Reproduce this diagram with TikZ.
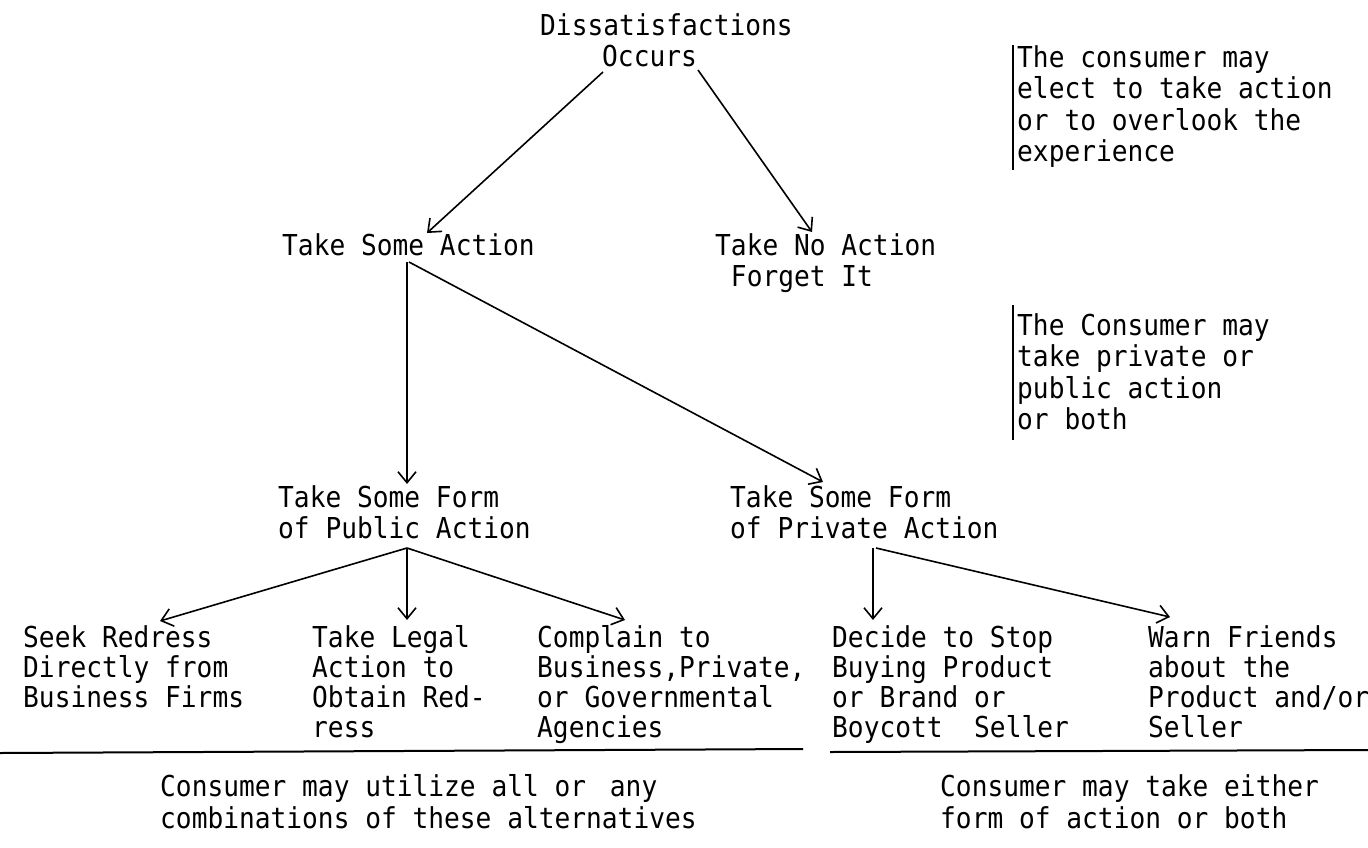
\documentclass[tikz,border=0pt]{standalone}
\usepackage{fontspec}
\setmonofont[FakeStretch=0.91]{DejaVu Sans Mono}
\usetikzlibrary{arrows.meta}
\begin{document}
\begin{tikzpicture}[x=1pt,y=-1pt,
  txt/.style={anchor=base west,inner sep=0pt,align=left,font=\ttfamily\fontsize{28.8}{31.5}\selectfont},
  rowtxt/.style={txt,font=\ttfamily\fontsize{28.8}{30.3}\selectfont},
  arr/.style={line width=1.6pt,-{Straight Barb[length=11pt,width=18pt,line width=1.6pt]}},
  rulebar/.style={line width=2pt},
  sidebar/.style={line width=1.2pt}]
\useasboundingbox (0,0) rectangle (1368,847);

% nodes (anchor = baseline of the last line)
\node[txt] (dis) at (540,66.5) {Dissatisfactions\\\hspace*{62pt}Occurs};
\node[txt] (n1) at (1017,161.5) {The consumer may\\elect to take action\\or to overlook the\\experience};
\node[txt] (tsa) at (282,255) {Take Some Action};
\node[txt] (tna) at (715,286.5) {Take No Action\\~Forget It};
\node[txt] (n2) at (1017,429.5) {The Consumer may\\take private or\\public action\\or both};
\node[txt] (pub) at (278,538.5) {Take Some Form\\of Public Action};
\node[txt] (pri) at (730,538.5) {Take Some Form\\of Private Action};
\node[rowtxt] (seek) at (23,707.6) {Seek Redress\\Directly from\\Business Firms};
\node[rowtxt] (legal) at (312,737.9) {Take Legal\\Action to\\Obtain Red-\\ress};
\node[rowtxt] (comp) at (537,737.9) {Complain to\\Business,Private,\\or Governmental\\Agencies};
\node[rowtxt] (dec) at (832,737.9) {Decide to Stop\\Buying Product\\or Brand or\\Boycott\ \ Seller};
\node[rowtxt] (warn) at (1148,737.9) {Warn Friends\\about the\\Product and/or\\Seller};
\node[txt] (n3) at (160,828) {Consumer may utilize all or\hspace{8pt} any\\combinations of these alternatives};
\node[txt] (n4) at (940,828) {Consumer may take either\\form of action or both};

% connector ends
\coordinate (dis-l) at (603,72);
\coordinate (dis-r) at (698,70);
\coordinate (tsa-in) at (427,233);
\coordinate (tna-in) at (812,232);
\coordinate (tsa-out) at (407,262);
\coordinate (tsa-out2) at (409,262);
\coordinate (pub-in) at (407,484);
\coordinate (pri-in) at (823,482);
\coordinate (pub-out) at (407,548);
\coordinate (seek-in) at (160,621);
\coordinate (legal-in) at (407,620);
\coordinate (comp-in) at (625,620);
\coordinate (pri-out) at (873,548);
\coordinate (pri-out2) at (876,548);
\coordinate (dec-in) at (873,620);
\coordinate (warn-in) at (1170,617);

% connectors
\draw[arr] (dis-l) -- (tsa-in);
\draw[arr] (dis-r) -- (tna-in);
\draw[arr] (tsa-out) -- (pub-in);
\draw[arr] (tsa-out2) -- (pri-in);
\draw[arr] (pub-out) -- (seek-in);
\draw[arr] (pub-out) -- (legal-in);
\draw[arr] (pub-out) -- (comp-in);
\draw[arr] (pri-out) -- (dec-in);
\draw[arr] (pri-out2) -- (warn-in);

% side bars
\coordinate (b1t) at (1013,45);
\coordinate (b1b) at (1013,170);
\coordinate (b2t) at (1013,305);
\coordinate (b2b) at (1013,440);
\draw[sidebar] (b1t) -- (b1b);
\draw[sidebar] (b2t) -- (b2b);

% separator rules
\coordinate (r1a) at (0,753);
\coordinate (r1b) at (803,749);
\coordinate (r2a) at (830,752);
\coordinate (r2b) at (1368,750);
\draw[rulebar] (r1a) -- (r1b);
\draw[rulebar] (r2a) -- (r2b);
\end{tikzpicture}
\end{document}
